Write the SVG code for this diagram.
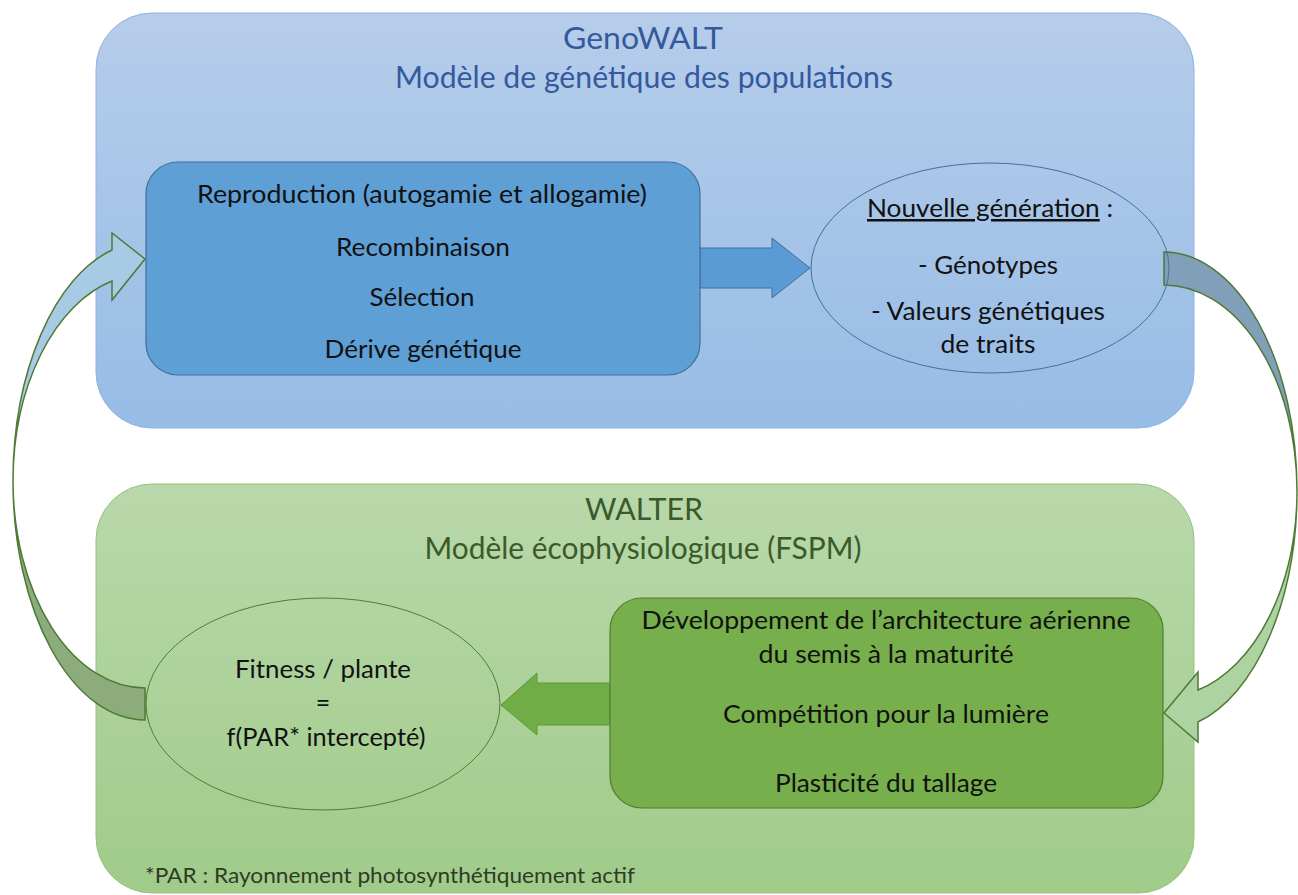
<svg xmlns="http://www.w3.org/2000/svg" width="1298" height="895" viewBox="0 0 1298 895">
<defs>
<linearGradient id="gBlue" x1="0" y1="0" x2="0" y2="1"><stop offset="0" stop-color="#b6cdea"/><stop offset="1" stop-color="#97bce6"/></linearGradient>
<linearGradient id="gGreen" x1="0" y1="0" x2="0" y2="1"><stop offset="0" stop-color="#b9d8ab"/><stop offset="1" stop-color="#a0cb89"/></linearGradient>
<style>
text{font-family:Lato,"Open Sans","Liberation Sans",sans-serif;text-anchor:middle;fill:#111}
.t{font-size:31px}
.b{font-size:25px}
.s{font-size:22px}
.arc{stroke:#4e7a34;stroke-width:1.5;stroke-linejoin:miter}
</style>
</defs>
<g id="panel-genowalt">
<rect x="96" y="13" width="1098" height="415" rx="56" fill="url(#gBlue)" stroke="#8db3e2" stroke-width="1"/>
<text class="t" x="643" y="49" fill="#34599c" style="fill:#34599c" textLength="160" lengthAdjust="spacingAndGlyphs">GenoWALT</text>
<text class="t" x="644" y="88" style="fill:#34599c" textLength="498" lengthAdjust="spacingAndGlyphs">Modèle de génétique des populations</text>
</g>
<g id="panel-walter">
<rect x="96" y="484" width="1098" height="409" rx="56" fill="url(#gGreen)" stroke="#93c47d" stroke-width="1"/>
<text class="t" x="644" y="520" style="fill:#3b5a2a" textLength="118" lengthAdjust="spacingAndGlyphs">WALTER</text>
<text class="t" x="643" y="559" style="fill:#3b5a2a" textLength="437" lengthAdjust="spacingAndGlyphs">Modèle écophysiologique (FSPM)</text>
<text class="s" x="390" y="883" style="fill:#2e3b26" textLength="490" lengthAdjust="spacingAndGlyphs">*PAR : Rayonnement photosynthétiquement actif</text>
</g>
<g id="connectors">
<path d="M700,248 L772,248 L772,238 L810,268 L772,298 L772,288 L700,288 Z" fill="#5b9bd5" stroke="#41719c" stroke-width="1"/>
<path d="M610,683 L537,683 L537,673 L501,705 L537,735 L537,725 L610,725 Z" fill="#70ad47" stroke="#5e963a" stroke-width="1"/>
<path class="arc" d="M13,481 A132,239 0 0 0 145,720 L145,688 A132,207 0 0 1 13,481 Z" fill="#8dac7c"/>
<path class="arc" d="M13,481 A132,239 0 0 1 112,250 L112,233 L145,259 L112,300 L112,281 A132,207 0 0 0 13,481 Z" fill="#a8cbe5"/>
<path class="arc" d="M1164,252 A133,239 0 0 1 1297,491 A133,206 0 0 0 1164,285 Z" fill="#819fb9"/>
<path class="arc" d="M1297,491 A133,239 0 0 1 1198,722 L1198,742 L1164,713 L1198,672 L1198,690 A133,206 0 0 0 1297,491 Z" fill="#acd3a1"/>
</g>
<g id="node-processus">
<rect x="146" y="162" width="554" height="213" rx="32" fill="#5e9fd6" stroke="#41719c" stroke-width="1.2"/>
<text class="b" x="422" y="203" textLength="450" lengthAdjust="spacingAndGlyphs">Reproduction (autogamie et allogamie)</text>
<text class="b" x="423" y="256" textLength="174" lengthAdjust="spacingAndGlyphs">Recombinaison</text>
<text class="b" x="422" y="306" textLength="105" lengthAdjust="spacingAndGlyphs">Sélection</text>
<text class="b" x="423" y="358" textLength="197" lengthAdjust="spacingAndGlyphs">Dérive génétique</text>
</g>
<g id="node-nouvelle-generation">
<ellipse cx="990" cy="268" rx="179" ry="105" fill="none" stroke="#41719c" stroke-width="1"/>
<text class="b" x="990" y="217" textLength="246" lengthAdjust="spacingAndGlyphs"><tspan text-decoration="underline">Nouvelle génération</tspan> :</text>
<text class="b" x="988" y="274" textLength="140" lengthAdjust="spacingAndGlyphs">- Génotypes</text>
<text class="b" x="988" y="320" textLength="234" lengthAdjust="spacingAndGlyphs">- Valeurs génétiques</text>
<text class="b" x="988" y="353" textLength="95" lengthAdjust="spacingAndGlyphs">de traits</text>
</g>
<g id="node-fitness">
<ellipse cx="323" cy="704" rx="177" ry="106" fill="none" stroke="#507e32" stroke-width="1"/>
<text class="b" x="323" y="678" textLength="176" lengthAdjust="spacingAndGlyphs">Fitness / plante</text>
<text class="b" x="323" y="712">=</text>
<text class="b" x="326" y="746" textLength="199" lengthAdjust="spacingAndGlyphs">f(PAR* intercepté)</text>
</g>
<g id="node-walter-processus">
<rect x="610" y="598" width="553" height="210" rx="32" fill="#76af4b" stroke="#507e32" stroke-width="1.2"/>
<text class="b" x="886" y="629" textLength="489" lengthAdjust="spacingAndGlyphs">Développement de l’architecture aérienne</text>
<text class="b" x="886" y="663" textLength="255" lengthAdjust="spacingAndGlyphs">du semis à la maturité</text>
<text class="b" x="886" y="723" textLength="326" lengthAdjust="spacingAndGlyphs">Compétition pour la lumière</text>
<text class="b" x="886" y="792" textLength="222" lengthAdjust="spacingAndGlyphs">Plasticité du tallage</text>
</g>
</svg>
